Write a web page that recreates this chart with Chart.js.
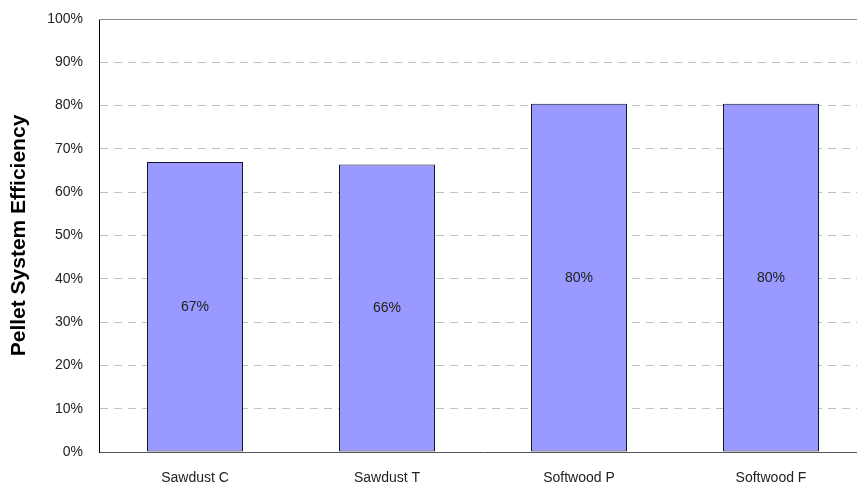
<!DOCTYPE html>
<html>
<head>
<meta charset="utf-8">
<script src="https://cdn.jsdelivr.net/npm/chart.js@4"></script>
<style>
  html, body { margin: 0; padding: 0; background: #fff; overflow: hidden; }
  #grafico { display: block; }
</style>
</head>
<body>
<canvas id="grafico" width="880" height="489"></canvas>
<script>
/* Datos de eficiencia por tipo de pellet */
const categorias = ['Sawdust C', 'Sawdust T', 'Softwood P', 'Softwood F'];
const eficiencia = [67.0, 66.4, 80.4, 80.4];
const ticksY = [0, 10, 20, 30, 40, 50, 60, 70, 80, 90, 100];

const fuente = "'Liberation Sans', Arial, sans-serif";

/* Etiqueta de valor en el centro de cada barra + marco superior */
const etiquetas = {
	id: 'etiquetas',
	afterDatasetsDraw(chart) {
		const ctx = chart.ctx;
		const area = chart.chartArea;
		ctx.save();
		ctx.strokeStyle = '#8a8a8a';
		ctx.lineWidth = 1;
		ctx.beginPath();
		ctx.moveTo(area.left, Math.round(area.top) + 0.5);
		ctx.lineTo(area.right, Math.round(area.top) + 0.5);
		ctx.stroke();

		ctx.font = '14px ' + fuente;
		ctx.fillStyle = '#222';
		ctx.textAlign = 'center';
		ctx.textBaseline = 'middle';
		const meta = chart.getDatasetMeta(0);
		meta.data.forEach(function (barra, i) {
			const centro = (barra.y + barra.base) / 2;
			ctx.fillText(Math.round(eficiencia[i]) + '%', barra.x, centro);
		});
		ctx.restore();
	}
};

const ctx = document.getElementById('grafico');
const grafico = new Chart(ctx, {
	type: 'bar',
	data: {
		labels: categorias,
		datasets: [{
			label: 'Pellet System Efficiency',
			data: eficiencia,
			backgroundColor: '#9999ff',
			borderColor: '#15152a',
			borderWidth: 1,
			borderSkipped: false,
			barPercentage: 0.5,
			categoryPercentage: 1.0
		}]
	},
	options: {
		responsive: false,
		animation: false,
		layout: { padding: { top: 19, left: 0, right: 13, bottom: 0 } },
		plugins: {
			legend: { display: false },
			tooltip: { enabled: false }
		},
		scales: {
			x: {
				grid: { display: false },
				border: { color: '#555', width: 1 },
				ticks: {
					color: '#222',
					font: { family: fuente, size: 14 },
					padding: 10
				},
				afterFit(scale) {
					scale.height = 37;
					scale.paddingLeft = 0;
					scale.paddingRight = 0;
				}
			},
			y: {
				min: 0,
				max: 100,
				afterBuildTicks(scale) {
					scale.ticks = ticksY.map(v => ({ value: v }));
				},
				grid: {
					drawTicks: false,
					color(c) {
						return (c.tick && (c.tick.value === 0 || c.tick.value === 100)) ? 'rgba(0,0,0,0)' : '#c0c0c0';
					}
				},
				border: { color: '#000', width: 1, dash: [8, 6] },
				ticks: {
					color: '#222',
					font: { family: fuente, size: 14 },
					padding: 16,
					callback: v => v + '%'
				},
				title: {
					display: true,
					text: 'Pellet System Efficiency',
					color: '#000',
					font: { family: fuente, size: 21, weight: 'bold' },
					padding: { top: 7, bottom: 0 }
				},
				afterFit(scale) {
					scale.width = 99;
					scale.paddingTop = 0;
					scale.paddingBottom = 0;
				}
			}
		}
	},
	plugins: [etiquetas]
});
</script>
</body>
</html>
